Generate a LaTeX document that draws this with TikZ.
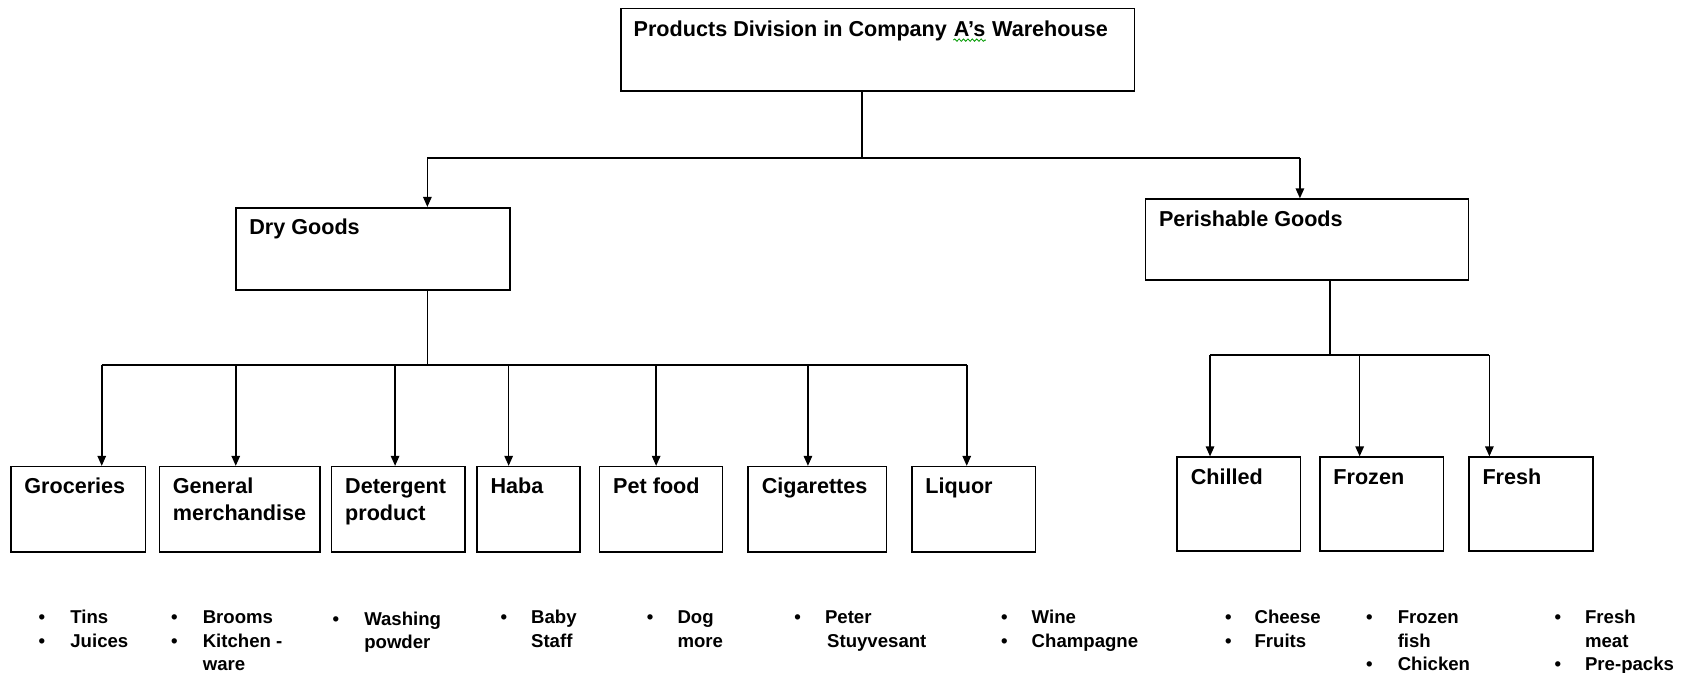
\documentclass[tikz,border=0pt]{standalone}
\usepackage{fontspec}
\setmainfont{Liberation Sans}
\usetikzlibrary{arrows.meta,fit,calc,decorations.pathmorphing}
\begin{document}
\begin{tikzpicture}[x=0.53827pt,y=-0.53827pt,
  box/.style={draw, line width=0.8pt, inner sep=0pt},
  lbl/.style={anchor=base west, inner sep=0pt, font=\fontsize{10.8}{13}\selectfont\bfseries},
  itm/.style={anchor=base west, inner sep=0pt, font=\fontsize{9.3}{11}\selectfont\bfseries},
  bul/.style={anchor=base, inner sep=0pt, font=\fontsize{9.3}{11}\selectfont\bfseries},
  conn/.style={line width=0.8pt},
  arr/.style={conn, -{Triangle[length=5pt,width=4.2pt]}},
  squiggle/.style={draw=green!60!black, line width=0.4pt, decorate,
    decoration={snake, amplitude=0.6pt, segment length=2.2pt}}]
\useasboundingbox (0,0) rectangle (1568,625);

\newcommand\mkbox[6]{%
  \node[box, fit={(#2,#3) (#4,#5)}] (#1) {};
  \node[lbl] (#1-t) at ($(#1.north west)+(13,26)$) {#6};}
\newcommand\mksec[3]{\node[lbl] (#1) at ($(#2.base west)+(0,25)$) {#3};}
\newcommand\bl[3]{\node[bul] (#1) at (#2,#3) {\textbullet};}
\newcommand\itx[4]{\node[itm] (#1) at (#2,#3) {#4};}

% top box
\node[box, fit={(577,8) (1054,84.5)}] (top) {};
\node[lbl] (tt1) at ($(top.north west)+(12,27)$) {Products Division in Company};
\node[lbl] (tt2) at ($(tt1.base east)+(5.6,0)$) {A’s};
\node[lbl] (tt3) at ($(tt2.base east)+(5.6,0)$) {Warehouse};
\path[squiggle] ($(tt2.base west)+(0,3)$) -- ($(tt2.base east)+(0,3)$);

% second level
\mkbox{dry}{219}{193}{474}{269.4}{Dry Goods}
\mkbox{per}{1064}{185}{1364}{260}{Perishable Goods}

% third level, dry goods
\mkbox{gro}{10}{433.5}{135}{512.5}{Groceries}
\mkbox{gen}{148}{433.5}{297}{512.5}{General}
\mksec{gen-t2}{gen-t}{merchandise}
\mkbox{det}{308}{433.5}{432}{512.5}{Detergent}
\mksec{det-t2}{det-t}{product}
\mkbox{hab}{443}{433.5}{539}{512.5}{Haba}
\mkbox{pet}{557}{433.5}{671}{512.5}{Pet food}
\mkbox{cig}{695}{433.5}{823.5}{512.5}{Cigarettes}
\mkbox{liq}{847}{433.5}{962}{512.5}{Liquor}

% third level, perishable goods
\mkbox{chi}{1093.5}{424.7}{1208}{512}{Chilled}
\mkbox{fro}{1226}{424.7}{1341}{512}{Frozen}
\mkbox{fre}{1364.5}{424.7}{1479.5}{512}{Fresh}

% connectors from top
\coordinate (j0) at (800.5,146.8);
\coordinate (jl) at (397,146.8);
\coordinate (jr) at (1207.5,146.8);
\draw[conn] (j0 |- top.south) -- (j0);
\draw[conn] (jl) -- (jr);
\draw[arr] (jl) -- (jl |- dry.north);
\draw[arr] (jr) -- (jr |- per.north);

% connectors from dry goods
\coordinate (d0) at (397,339);
\coordinate (d1) at (94.5,339);
\coordinate (d2) at (219,339);
\coordinate (d3) at (367,339);
\coordinate (d4) at (472.5,339);
\coordinate (d5) at (609.5,339);
\coordinate (d6) at (750.5,339);
\coordinate (d7) at (898,339);
\draw[conn] (d0 |- dry.south) -- (d0);
\draw[conn] (d1) -- (d7);
\draw[arr] (d1) -- (d1 |- gro.north);
\draw[arr] (d2) -- (d2 |- gen.north);
\draw[arr] (d3) -- (d3 |- det.north);
\draw[arr] (d4) -- (d4 |- hab.north);
\draw[arr] (d5) -- (d5 |- pet.north);
\draw[arr] (d6) -- (d6 |- cig.north);
\draw[arr] (d7) -- (d7 |- liq.north);

% connectors from perishable goods
\coordinate (p0) at (1235.5,329.8);
\coordinate (p1) at (1124,329.8);
\coordinate (p2) at (1263,329.8);
\coordinate (p3) at (1383.5,329.8);
\draw[conn] (p0 |- per.south) -- (p0);
\draw[conn] (p1) -- (p3);
\draw[arr] (p1) -- (p1 |- chi.north);
\draw[arr] (p2) -- (p2 |- fro.north);
\draw[arr] (p3) -- (p3 |- fre.north);

% bullet lists
\bl{g-b1}{39}{579.6}\itx{g-i1}{65}{579.6}{Tins}
\bl{g-b2}{39}{601.2}\itx{g-i2}{65}{601.2}{Juices}

\bl{m-b1}{162}{579.6}\itx{m-i1}{188}{579.6}{Brooms}
\bl{m-b2}{162}{601.2}\itx{m-i2}{188}{601.2}{Kitchen -}
\itx{m-i3}{188}{622.8}{ware}

\bl{d-b1}{312}{580.6}\itx{d-i1}{338}{580.6}{Washing}
\itx{d-i2}{338}{602.2}{powder}

\bl{h-b1}{468}{579.6}\itx{h-i1}{493}{579.6}{Baby}
\itx{h-i2}{493}{601.2}{Staff}

\bl{p-b1}{604}{579.6}\itx{p-i1}{629}{579.6}{Dog}
\itx{p-i2}{629}{601.2}{more}

\bl{c-b1}{741}{579.6}\itx{c-i1}{766}{579.6}{Peter}
\itx{c-i2}{768}{601.2}{Stuyvesant}

\bl{l-b1}{933}{579.6}\itx{l-i1}{958}{579.6}{Wine}
\bl{l-b2}{933}{601.2}\itx{l-i2}{958}{601.2}{Champagne}

\bl{ch-b1}{1141}{579.6}\itx{ch-i1}{1165}{579.6}{Cheese}
\bl{ch-b2}{1141}{601.2}\itx{ch-i2}{1165}{601.2}{Fruits}

\bl{fr-b1}{1272}{579.6}\itx{fr-i1}{1298}{579.6}{Frozen}
\itx{fr-i2}{1298}{601.2}{fish}
\bl{fr-b2}{1272}{622.8}\itx{fr-i3}{1298}{622.8}{Chicken}

\bl{fs-b1}{1447}{579.6}\itx{fs-i1}{1472}{579.6}{Fresh}
\itx{fs-i2}{1472}{601.2}{meat}
\bl{fs-b2}{1447}{622.8}\itx{fs-i3}{1472}{622.8}{Pre-packs}
\end{tikzpicture}
\end{document}
